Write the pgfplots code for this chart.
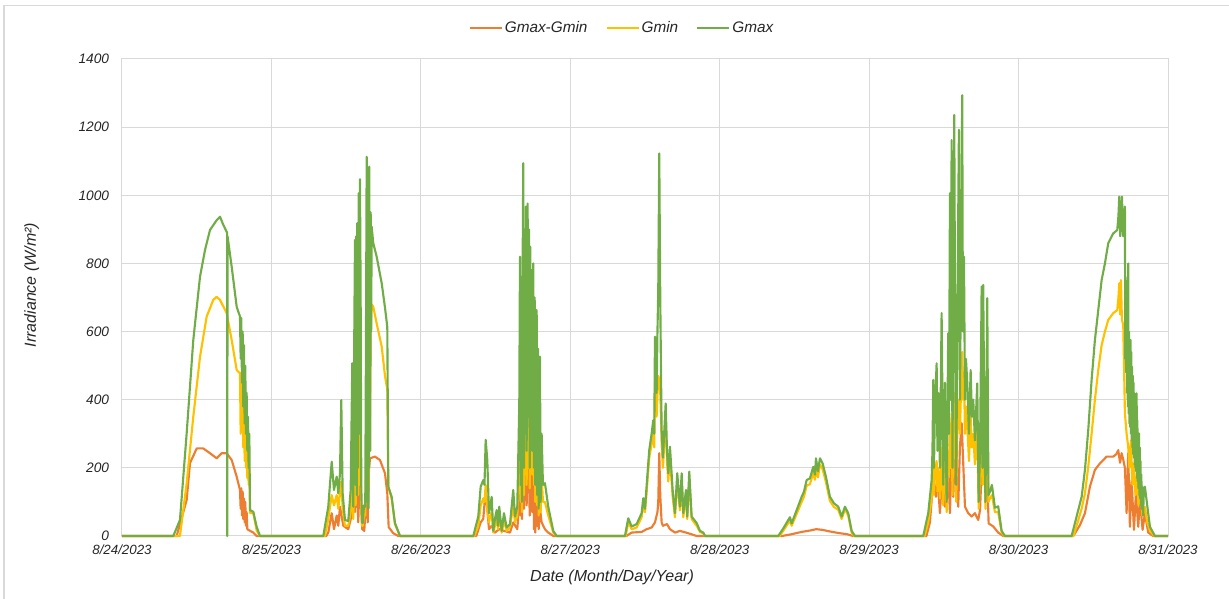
\documentclass[border=0pt]{standalone}
\usepackage{fontspec}
\setmainfont{Liberation Sans}
\usepackage{pgfplots}
\pgfplotsset{compat=1.18}
\definecolor{cOr}{RGB}{237,125,49}
\definecolor{cYe}{RGB}{255,192,0}
\definecolor{cGr}{RGB}{112,173,71}
\definecolor{cGrid}{RGB}{217,217,217}
\definecolor{cTxt}{RGB}{38,38,38}
\begin{document}
\begin{tikzpicture}
\useasboundingbox (-91.5pt,-47.25pt) rectangle (830.25pt,402pt);
\draw[cGrid, line width=0.9pt] (-88.5pt,-47.25pt) -- (-88.5pt,397.9pt) -- (830.25pt,397.9pt);
\begin{axis}[
  at={(0,0)}, anchor=south west,
  scale only axis, width=784.5pt, height=357.75pt,
  xmin=0, xmax=168, ymin=0, ymax=1400,
  clip=false,
  xtick={0,24,48,72,96,120,144,168},
  xticklabels={8/24/2023,8/25/2023,8/26/2023,8/27/2023,8/28/2023,8/29/2023,8/30/2023,8/31/2023},
  ytick={0,200,400,600,800,1000,1200,1400},
  /pgf/number format/assume math mode=true,
  /pgf/number format/1000 sep={},
  major tick length=0pt,
  grid=major, major grid style={cGrid, line width=0.75pt},
  axis line style={cGrid, line width=0.75pt},
  xticklabel style={font=\fontsize{10}{12}\selectfont\itshape, text=cTxt, anchor=center, inner sep=0pt, yshift=-10.5pt},
  yticklabel style={font=\fontsize{10.3}{12}\selectfont\itshape, text=cTxt, anchor=east, inner sep=0pt, xshift=-9.5pt},
  xlabel={Date (Month/Day/Year)},
  ylabel={Irradiance (W/m²)},
  every axis x label/.style={at={(axis description cs:0.4685,-0.086)}, anchor=center, font=\fontsize{12}{14}\selectfont\itshape, text=cTxt},
  every axis y label/.style={at={(axis description cs:-0.0863,0.526)}, anchor=center, rotate=90, font=\fontsize{12}{14}\selectfont\itshape, text=cTxt},
  legend columns=3,
  legend style={at={(axis description cs:0.478,1.065)}, anchor=center, draw=none, fill=none,
    font=\fontsize{11.5}{13}\selectfont\itshape, text=cTxt,
    nodes={inner sep=1.5pt},
    /tikz/every even column/.append style={column sep=12pt}},
  legend image code/.code={\draw[#1] (0pt,0pt) -- (24pt,0pt);},
  every axis plot/.append style={line width=1.6pt, line join=round, mark=none},
]
% Gmax-Gmin
\addplot[cOr] coordinates {
(0,0) (8.78,0) (10.39,106) (10.92,214) (12.00,257) (13.06,257) (14.13,243) (15.21,228) (16.01,243) (16.81,243) (17.62,223) (18.42,174) (18.95,135)
(19.06,80) (19.16,140) (19.27,60) (19.38,130) (19.48,50) (19.59,110) (19.70,40) (19.80,100) (19.91,30) (20.02,70) (20.13,20) (20.29,18) (21.09,10) (21.63,0)
(32.80,0) (33.13,10) (33.68,67) (34.05,20) (34.48,60) (34.74,30) (35.01,86) (35.54,30) (36.34,20) (36.88,60) (37.15,135) (37.42,70) (37.69,184) (37.95,40) (38.22,205) (38.38,100) (38.59,20) (38.91,15) (39.30,135) (39.46,40) (39.67,195) (39.83,228) (40.63,233) (41.43,223) (42.24,184) (42.61,125) (42.83,26) (43.57,8) (44.38,0)
(56.90,0) (57.61,40) (58.02,50) (58.41,135) (58.67,80) (58.94,20) (59.37,30) (59.90,10) (60.59,20) (61.35,15) (62.31,10) (62.84,40) (63.49,20) (63.81,100) (63.92,200) (64.03,60) (64.13,280) (64.24,50) (64.35,230) (64.45,200) (64.56,80) (64.67,210) (64.77,120) (64.88,200) (64.99,90) (65.15,210) (65.25,150) (65.36,200) (65.48,60) (65.57,210) (65.69,100) (65.80,200) (65.90,70) (66.06,210) (66.17,20) (66.28,150) (66.38,10) (66.60,160) (66.70,30) (66.81,120) (66.92,20) (67.13,80) (67.40,40) (67.93,20) (68.46,10) (69.27,0)
(81.00,0) (81.86,10) (83.46,12) (84.27,20) (85.07,25) (85.60,40) (86.00,70) (86.13,100) (86.29,243) (86.45,120) (86.67,40) (86.88,30) (87.53,35) (88.01,20) (88.81,10) (89.61,15) (90.58,10) (91.49,5) (92.30,0)
(106.00,0) (107.50,5) (109.16,12) (110.50,16) (111.50,20) (112.50,18) (113.50,14) (115.00,9) (116.50,5) (117.40,0)
(129.20,0) (129.76,40) (130.30,164) (130.73,115) (130.94,184) (131.37,67) (131.80,213) (132.17,86) (132.70,184) (132.98,67) (133.25,243) (133.51,115) (133.78,262) (134.05,164) (134.31,86) (134.58,262) (134.86,331) (135.11,214) (135.39,86) (135.92,67) (136.46,57) (136.99,67) (137.52,47) (137.81,76) (138.07,194) (138.32,164) (138.60,184) (138.97,174) (139.19,37) (139.93,28) (140.73,10) (141.54,0)
(152.79,0) (153.86,32) (154.66,67) (155.46,145) (156.26,194) (157.07,213) (158.14,233) (159.20,233) (159.70,240) (160.01,252) (160.30,215) (160.55,243) (160.80,225) (161.08,200) (161.35,67) (161.61,243) (161.88,27) (162.16,164) (162.53,18) (162.85,125) (163.22,27) (163.49,106) (163.92,18) (164.29,67) (164.82,10) (165.63,0) (168,0)
};
\addlegendentry{Gmax-Gmin}
% Gmin
\addplot[cYe] coordinates {
(0,0) (9.31,0) (10.39,155) (11.45,350) (12.53,526) (13.60,644) (14.66,693) (15.21,702) (15.74,693) (16.81,654) (17.62,575) (18.42,487) (18.68,482) (18.95,478)
(19.06,300) (19.16,470) (19.27,330) (19.38,420) (19.48,260) (19.59,400) (19.70,220) (19.80,330) (19.91,200) (20.02,300) (20.13,170) (20.24,250) (20.34,150) (20.45,200) (20.56,67) (21.09,67) (21.63,16) (22.16,0)
(32.60,0) (33.13,50) (33.68,120) (34.05,90) (34.48,120) (34.74,80) (35.01,130) (35.22,160) (35.44,80) (35.81,30) (36.34,30) (36.73,70) (36.99,150) (37.15,50) (37.31,180) (37.42,250) (37.53,90) (37.63,270) (37.79,300) (37.90,120) (38.01,310) (38.11,150) (38.22,280) (38.33,200) (38.43,80) (38.54,30) (38.66,30) (38.87,60) (39.07,60) (39.19,200) (39.30,350) (39.39,120) (39.51,320) (39.62,150) (39.72,400) (39.83,350) (39.94,600) (40.10,680) (40.36,673) (40.90,624) (41.71,556) (42.24,470) (42.61,430) (42.77,145) (43.31,110) (43.84,35) (44.65,0)
(56.60,0) (57.22,30) (57.61,90) (58.02,110) (58.22,100) (58.41,150) (58.67,80) (58.94,40) (59.18,60) (59.37,70) (59.63,10) (59.90,30) (60.18,50) (60.39,20) (60.59,60) (60.98,10) (61.35,45) (61.78,15) (62.31,25) (62.84,90) (63.12,40) (63.49,60) (63.81,200) (63.92,350) (64.03,100) (64.13,300) (64.24,70) (64.35,320) (64.45,400) (64.56,120) (64.67,450) (64.77,180) (64.88,560) (64.99,150) (65.15,520) (65.25,200) (65.36,500) (65.48,140) (65.57,560) (65.69,200) (65.80,500) (65.90,180) (66.06,430) (66.17,150) (66.28,400) (66.38,100) (66.60,350) (66.70,90) (66.81,300) (66.92,60) (67.13,250) (67.24,70) (67.40,180) (67.61,100) (67.93,100) (68.46,60) (69.27,10) (69.81,0)
(80.90,0) (81.31,40) (81.86,20) (82.66,25) (83.46,55) (83.72,95) (84.00,70) (84.27,130) (84.68,230) (85.07,270) (85.33,300) (85.49,260) (85.60,450) (85.87,350) (86.00,420) (86.13,470) (86.29,460) (86.45,420) (86.56,350) (86.67,270) (86.88,200) (87.32,350) (87.53,220) (87.74,160) (88.01,230) (88.44,115) (88.81,55) (89.18,160) (89.61,75) (89.89,165) (90.15,55) (90.58,120) (90.79,50) (91.11,170) (91.49,50) (92.30,30) (92.83,12) (93.36,8) (93.63,0)
(105.60,0) (106.20,15) (107.01,38) (107.28,45) (107.55,30) (108.36,65) (109.16,100) (109.53,115) (109.96,148) (110.49,152) (111.02,185) (111.30,165) (111.46,208) (111.78,172) (112.10,210) (112.53,196) (113.06,158) (113.70,103) (114.35,85) (115.04,77) (115.58,50) (116.11,78) (116.64,60) (117.19,10) (117.60,0)
(128.90,0) (129.49,40) (130.04,110) (130.17,150) (130.30,200) (130.41,120) (130.57,180) (130.84,220) (130.97,130) (131.10,200) (131.37,110) (131.64,260) (131.90,90) (132.17,220) (132.45,70) (132.70,250) (132.82,180) (132.98,330) (133.09,200) (133.25,360) (133.38,120) (133.51,300) (133.67,420) (133.83,280) (133.99,100) (134.15,300) (134.42,400) (134.58,300) (134.74,420) (134.95,540) (135.06,400) (135.23,480) (135.39,300) (135.55,380) (135.76,330) (136.03,220) (136.30,350) (136.51,260) (136.72,300) (136.99,210) (137.36,320) (137.59,80) (137.81,180) (138.07,380) (138.20,150) (138.32,400) (138.52,200) (138.68,80) (138.97,350) (139.16,100) (139.40,110) (139.72,120) (140.20,70) (140.73,70) (141.28,10) (141.70,0)
(152.80,0) (153.32,30) (154.13,80) (154.66,125) (155.19,203) (155.73,300) (156.26,400) (156.80,487) (157.34,560) (157.87,600) (158.40,634) (159.20,654) (159.85,663) (160.04,700) (160.17,742) (160.33,650) (160.44,751) (160.60,634) (160.81,620) (161.08,360) (161.35,300) (161.61,262) (161.80,200) (162.05,280) (162.29,150) (162.53,213) (162.77,120) (163.06,180) (163.25,90) (163.65,120) (163.89,60) (164.29,86) (164.66,40) (165.10,15) (165.80,0) (168,0)
};
\addlegendentry{Gmin}
% Gmax
\addplot[cGr] coordinates {
(0,0) (8.24,0) (9.31,47) (10.39,302) (11.45,575) (12.53,761) (13.33,839) (14.13,898) (15.21,927) (15.74,937) (16.27,913) (16.81,893) (16.88,890) (16.91,0) (16.95,880) (17.62,790) (18.42,673) (18.95,644)
(19.06,520) (19.16,640) (19.27,450) (19.38,600) (19.48,380) (19.59,560) (19.70,330) (19.80,500) (19.91,300) (20.02,420) (20.13,250) (20.24,350) (20.34,200) (20.45,300) (20.56,76) (21.09,71) (21.63,27) (22.16,0)
(32.33,0) (33.13,86) (33.68,218) (34.05,135) (34.48,174) (34.74,125) (35.01,184) (35.22,399) (35.44,125) (35.81,47) (36.34,44) (36.73,135) (36.99,507) (37.15,86) (37.31,600) (37.42,869) (37.53,150) (37.63,880) (37.72,120) (37.79,918) (37.90,200) (38.01,1006) (38.11,300) (38.22,1047) (38.33,700) (38.43,150) (38.54,40) (38.66,38) (38.87,90) (39.07,86) (39.19,600) (39.30,1113) (39.35,100) (39.42,1050) (39.47,150) (39.51,1000) (39.58,80) (39.62,900) (39.67,200) (39.72,1084) (39.78,300) (39.83,700) (39.88,250) (39.94,950) (40.02,600) (40.10,908) (40.36,859) (40.90,820) (41.71,742) (42.24,670) (42.61,614) (42.77,145) (43.31,115) (43.84,38) (44.65,0)
(56.42,0) (57.22,57) (57.61,145) (58.02,164) (58.22,150) (58.41,282) (58.67,223) (58.94,67) (59.18,90) (59.37,115) (59.63,15) (59.90,50) (60.18,76) (60.39,30) (60.59,86) (60.98,15) (61.35,67) (61.78,25) (62.31,35) (62.84,135) (63.12,57) (63.49,86) (63.81,390) (63.92,820) (64.03,150) (64.13,760) (64.24,100) (64.35,800) (64.45,1094) (64.56,200) (64.67,900) (64.77,300) (64.88,967) (64.99,250) (65.15,976) (65.25,350) (65.36,900) (65.48,200) (65.57,849) (65.69,300) (65.80,780) (65.90,250) (66.06,800) (66.17,200) (66.28,700) (66.38,150) (66.60,663) (66.70,120) (66.81,550) (66.92,80) (67.13,526) (67.24,100) (67.40,300) (67.61,150) (67.93,155) (68.46,86) (69.27,15) (69.81,0)
(80.78,0) (81.31,52) (81.86,28) (82.66,35) (83.46,67) (83.72,111) (84.00,80) (84.27,150) (84.68,252) (85.07,301) (85.33,340) (85.49,300) (85.60,585) (85.87,420) (86.00,600) (86.13,722) (86.29,1123) (86.45,700) (86.56,500) (86.67,311) (86.88,230) (87.32,389) (87.53,250) (87.74,184) (88.01,262) (88.44,135) (88.81,67) (89.18,184) (89.61,86) (89.89,184) (90.15,67) (90.58,135) (90.79,57) (91.11,189) (91.49,57) (92.30,38) (92.83,15) (93.36,10) (93.63,0)
(105.40,0) (106.20,22) (107.01,47) (107.28,55) (107.55,37) (108.36,76) (109.16,115) (109.53,130) (109.96,164) (110.49,169) (111.02,203) (111.30,180) (111.46,228) (111.78,190) (112.10,228) (112.53,213) (113.06,174) (113.70,115) (114.35,96) (115.04,86) (115.58,57) (116.11,86) (116.64,67) (117.19,15) (117.72,0)
(128.69,0) (129.49,67) (130.04,164) (130.17,250) (130.30,458) (130.41,200) (130.57,380) (130.84,507) (130.97,250) (131.10,420) (131.37,200) (131.64,654) (131.90,150) (132.17,450) (132.45,100) (132.70,595) (132.82,300) (132.98,1006) (133.09,400) (133.25,1162) (133.38,200) (133.51,700) (133.67,1236) (133.83,500) (133.99,150) (134.15,600) (134.42,1192) (134.58,400) (134.74,750) (134.95,1294) (135.06,600) (135.23,820) (135.39,400) (135.55,520) (135.76,450) (136.03,300) (136.30,487) (136.51,350) (136.72,400) (136.99,280) (137.36,448) (137.59,100) (137.81,250) (138.07,732) (138.20,200) (138.32,737) (138.52,300) (138.68,100) (138.97,698) (139.16,120) (139.40,130) (139.72,150) (140.20,83) (140.73,87) (141.28,15) (141.81,0)
(152.52,0) (153.32,57) (154.13,115) (154.66,194) (155.19,311) (155.73,458) (156.26,575) (156.80,663) (157.34,751) (157.87,800) (158.40,859) (159.20,888) (159.85,898) (160.04,940) (160.17,996) (160.33,880) (160.44,900) (160.60,996) (160.81,880) (161.08,967)
(161.14,520) (161.20,760) (161.27,480) (161.35,700) (161.41,420) (161.48,650) (161.55,380) (161.61,800) (161.67,360) (161.73,600) (161.80,330) (161.86,560) (161.92,320) (161.99,575) (162.05,300) (162.11,540) (162.17,280) (162.23,497) (162.29,260) (162.35,470) (162.41,240) (162.47,450) (162.53,230) (162.59,420) (162.65,210) (162.71,400) (162.77,200) (162.84,380) (162.90,190) (162.96,419) (163.02,170) (163.08,340) (163.15,160) (163.21,300) (163.27,140) (163.34,301) (163.40,120) (163.46,260) (163.53,110) (163.59,220) (163.65,90) (163.72,180) (163.78,80) (163.89,145) (164.00,60) (164.10,120) (164.29,145) (164.66,90) (165.10,27) (165.90,0) (168,0)
};
\addlegendentry{Gmax}
\end{axis}
\end{tikzpicture}
\end{document}
